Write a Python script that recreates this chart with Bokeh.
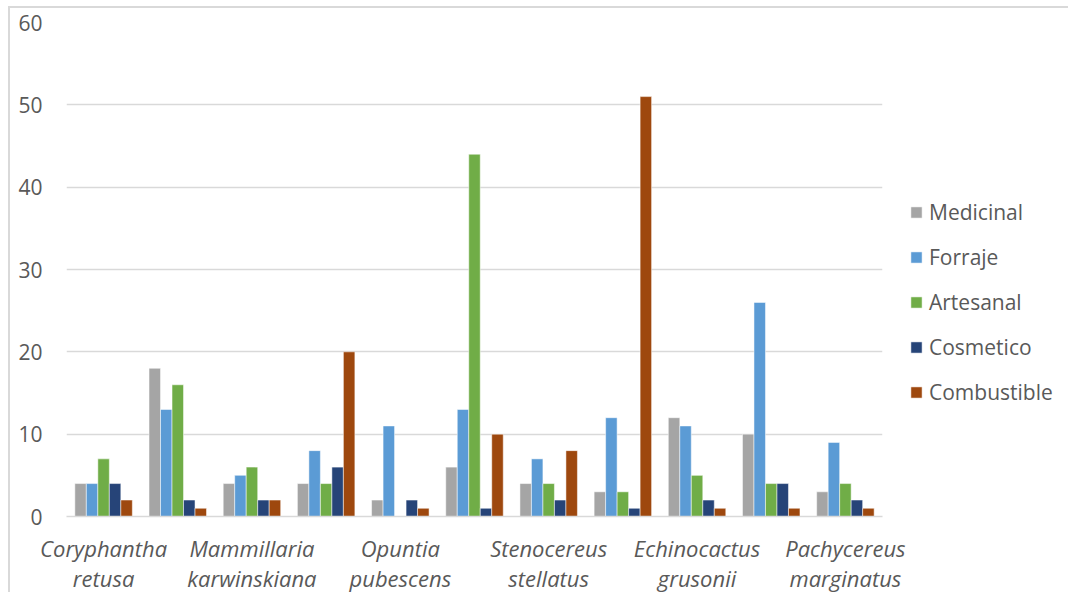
from bokeh.plotting import figure
from bokeh.models import ColumnDataSource, FixedTicker, Legend, LegendItem
from bokeh.transform import dodge
from bokeh.embed import file_html
from bokeh.resources import INLINE

# ---- data ----
group_index = list(range(1, 12))
label_positions = [1, 3, 5, 7, 9, 11]
tick_labels = ["Coryphantha\nretusa", "Mammillaria\nkarwinskiana", "Opuntia\npubescens",
               "Stenocereus\nstellatus", "Echinocactus\ngrusonii", "Pachycereus\nmarginatus"]
series_names = ["Medicinal", "Forraje", "Artesanal", "Cosmetico", "Combustible"]
medicinal = [4, 18, 4, 4, 2, 6, 4, 3, 12, 10, 3]
forraje = [4, 13, 5, 8, 11, 13, 7, 12, 11, 26, 9]
artesanal = [7, 16, 6, 4, 0, 44, 4, 3, 5, 4, 4]
cosmetico = [4, 2, 2, 6, 2, 1, 2, 1, 2, 4, 2]
combustible = [2, 1, 2, 20, 1, 10, 8, 51, 1, 1, 1]
colors = ["#A5A5A5", "#5B9BD5", "#70AD47", "#264478", "#9E480E"]

src = ColumnDataSource(dict(x=group_index, Medicinal=medicinal, Forraje=forraje,
                            Artesanal=artesanal, Cosmetico=cosmetico, Combustible=combustible))

p = figure(frame_width=816, frame_height=494, x_range=(0.5, 11.5), y_range=(0, 60),
           output_backend="svg", toolbar_location=None,
           min_border_left=56, min_border_top=14, min_border_bottom=74, min_border_right=184)
p.margin = (6, 0, 0, 8)
p.styles = {"border-top": "2px solid #d9d9d9", "border-left": "2px solid #d9d9d9"}
p.outline_line_color = None

bw = 0.155
offsets = [-2 * bw, -bw, 0, bw, 2 * bw]
items = []
for name, c, off in zip(series_names, colors, offsets):
    r = p.vbar(x=dodge("x", off), top=name, width=bw, source=src, fill_color=c,
               line_color="white", line_alpha=0.5, line_width=1)
    items.append(LegendItem(label=name, renderers=[r]))

p.xgrid.grid_line_color = None
p.ygrid.grid_line_color = "#d9d9d9"
p.ygrid.grid_line_width = 1.5
p.yaxis.ticker = FixedTicker(ticks=[0, 10, 20, 30, 40, 50, 60])
p.yaxis.axis_line_color = None
p.yaxis.major_tick_line_color = None
p.yaxis.minor_tick_line_color = None
p.yaxis.major_label_text_font = "Open Sans"
p.yaxis.major_label_text_font_size = "21px"
p.yaxis.major_label_text_color = "#595959"
p.yaxis.major_label_standoff = 18

p.xaxis.ticker = FixedTicker(ticks=label_positions)
p.xaxis.major_label_overrides = {k: v for k, v in zip(label_positions, tick_labels)}
p.xaxis.axis_line_color = "#d9d9d9"
p.xaxis.axis_line_width = 1.5
p.xaxis.major_tick_line_color = None
p.xaxis.minor_tick_line_color = None
p.xaxis.major_label_text_font = "Open Sans"
p.xaxis.major_label_text_font_style = "italic"
p.xaxis.major_label_text_font_size = "22px"
p.xaxis.major_label_text_line_height = 1.0
p.xaxis.major_label_text_color = "#595959"
p.xaxis.major_label_standoff = 10

legend = Legend(items=items, location=(27, 110), border_line_color=None,
                background_fill_alpha=0,
                label_text_font="Open Sans", label_text_font_size="21px",
                label_text_color="#595959", glyph_width=14, glyph_height=14,
                label_standoff=6, spacing=17, label_height=22, padding=0, margin=0)
p.add_layout(legend, "right")

open("out.html", "w").write(file_html(p, INLINE))
